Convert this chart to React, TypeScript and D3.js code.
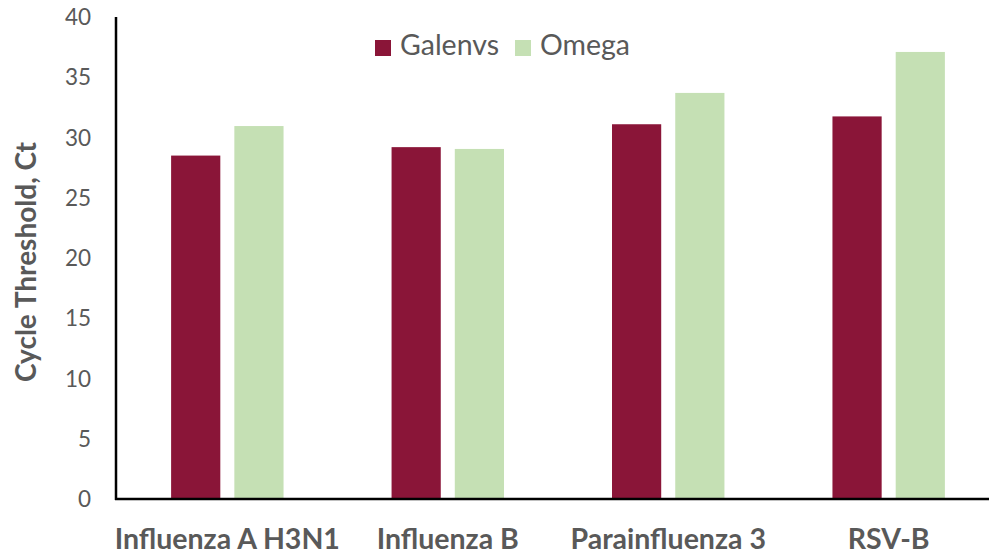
import React, { useEffect, useRef } from 'react';
import * as d3 from 'd3';

const categories = ['Influenza A H3N1', 'Influenza B', 'Parainfluenza 3', 'RSV-B'];
const seriesNames = ['Galenvs', 'Omega'];
const galenvs = [28.5, 29.2, 31.1, 31.75];
const omega = [30.95, 29.05, 33.7, 37.1];
const yTicks = [0, 5, 10, 15, 20, 25, 30, 35, 40];
const colors = ['#8a1538', '#c5e0b4'];

const App = () => {
  const svgRef = useRef<SVGSVGElement>(null);
  const width = 989;
  const height = 556;
  const left = 116;
  const top = 17;
  const bottom = 499;

  useEffect(() => {
    const svg = d3.select(svgRef.current);
    svg.selectAll('*').remove();

    const x = d3.scaleBand().domain(categories).range([left, 1000]).paddingInner(0.49).paddingOuter(0.25);
    const xs = d3.scaleBand().domain(seriesNames).range([0, x.bandwidth()]).paddingInner(0.222);
    const y = d3.scaleLinear().domain([0, 40]).range([bottom, top]);

    const rows = categories.map((c, i) => ({ cat: c, vals: [galenvs[i], omega[i]] }));

    const groups = svg.selectAll('g.grp')
      .data(rows)
      .enter()
      .append('g')
      .attr('transform', (d) => 'translate(' + x(d.cat) + ',0)');

    groups.selectAll('rect')
      .data((d) => d.vals.map((v, j) => ({ name: seriesNames[j], v, j })))
      .enter()
      .append('rect')
      .attr('x', (d) => xs(d.name) as number)
      .attr('width', xs.bandwidth())
      .attr('y', (d) => y(d.v))
      .attr('height', (d) => bottom - y(d.v))
      .attr('fill', (d) => colors[d.j]);

    // axes lines
    svg.append('line')
      .attr('x1', left).attr('x2', left)
      .attr('y1', top).attr('y2', bottom + 1)
      .attr('stroke', '#000').attr('stroke-width', 2.5);
    svg.append('line')
      .attr('x1', left - 1).attr('x2', width)
      .attr('y1', bottom).attr('y2', bottom)
      .attr('stroke', '#000').attr('stroke-width', 2.5);

    // y tick labels
    svg.selectAll('text.yt')
      .data(yTicks)
      .enter()
      .append('text')
      .attr('x', 91)
      .attr('y', (d) => y(d))
      .attr('dy', '0.36em')
      .attr('text-anchor', 'end')
      .attr('font-family', 'Lato')
      .attr('font-size', 22.5)
      .attr('fill', '#595959')
      .text((d) => d);

    // x labels
    svg.selectAll('text.xt')
      .data(categories)
      .enter()
      .append('text')
      .attr('x', (d) => (x(d) as number) + x.bandwidth() / 2)
      .attr('y', 549)
      .attr('text-anchor', 'middle')
      .attr('font-family', 'Lato')
      .attr('font-weight', 'bold')
      .attr('font-size', 28.5)
      .attr('fill', '#595959')
      .text((d) => d);

    // y title
    svg.append('text')
      .attr('transform', 'translate(36,262) rotate(-90)')
      .attr('text-anchor', 'middle')
      .attr('font-family', 'Lato')
      .attr('font-weight', 'bold')
      .attr('font-size', 28)
      .attr('fill', '#595959')
      .text('Cycle Threshold, Ct');

    // legend
    const legendX = [375, 515];
    const legend = svg.selectAll('g.leg')
      .data(seriesNames)
      .enter()
      .append('g')
      .attr('transform', (d, i) => 'translate(' + legendX[i] + ',40)');
    legend.append('rect')
      .attr('width', 16).attr('height', 16)
      .attr('fill', (d, i) => colors[i]);
    legend.append('text')
      .attr('x', 25)
      .attr('y', 15)
      .attr('font-family', 'Lato')
      .attr('font-size', 28.5)
      .attr('fill', '#595959')
      .text((d) => d);
  }, []);

  return (
    <svg ref={svgRef} width={width} height={height}
      style={{ position: 'absolute', left: 0, top: 0, background: '#fff' }} />
  );
};

export default App;
